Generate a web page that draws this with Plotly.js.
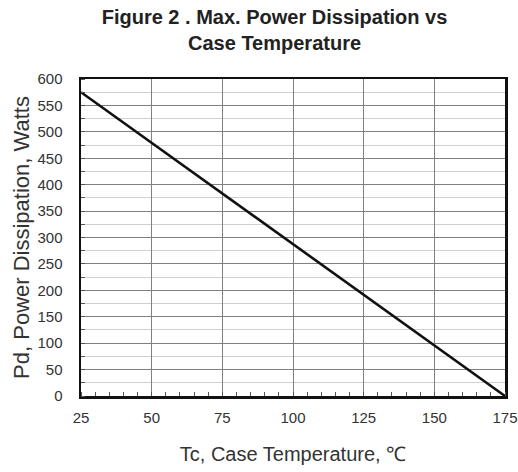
<!DOCTYPE html>
<html>
<head>
<meta charset="utf-8">
<script src="https://cdn.plot.ly/plotly-3.0.1.min.js"></script>
<style>
  html, body { margin: 0; padding: 0; background: #fff; }
  #chart { width: 518px; height: 472px; }
</style>
</head>
<body>
<div id="chart"></div>
<script>
// Derating curve: maximum power dissipation against case temperature
const caseTemp = [25, 175];        // Tc, °C
const powerWatts = [575, 0];       // Pd, W
const xTicks = [25, 50, 75, 100, 125, 150, 175];
const yTicks = [0, 50, 100, 150, 200, 250, 300, 350, 400, 450, 500, 550, 600];

const sans = 'Liberation Sans, Arial, sans-serif';
const labelFont = { family: sans, size: 15, color: '#333' };

const trace = {
  x: caseTemp,
  y: powerWatts,
  mode: 'lines',
  line: { color: '#111', width: 2.6 },
  hoverinfo: 'skip'
};

const layout = {
  width: 518,
  height: 472,
  paper_bgcolor: '#fff',
  plot_bgcolor: '#fff',
  margin: { l: 81, r: 13, t: 79, b: 76 },
  showlegend: false,
  title: {
    text: '<b>Figure 2 . Max. Power Dissipation vs<br>Case Temperature</b>',
    font: { family: sans, size: 20, color: '#222' },
    x: 0.53, xanchor: 'center',
    y: 0.95, yanchor: 'top'
  },
  xaxis: {
    range: [25, 175],
    tickvals: xTicks,
    ticktext: xTicks.map(String),
    showgrid: true,
    gridcolor: '#808080',
    gridwidth: 1,
    zeroline: false,
    showline: true,
    mirror: true,
    linecolor: '#111',
    linewidth: 2.5,
    ticks: '',
    tickfont: labelFont,
    ticklabelstandoff: 6,
    ticklabeloverflow: 'allow',
    minor: { dtick: 5, tick0: 25, ticks: 'inside', ticklen: 4, tickcolor: '#555', showgrid: false },
    title: {
      text: 'Tc, Case Temperature, ℃',
      font: { family: sans, size: 20, color: '#333' },
      standoff: 23
    }
  },
  yaxis: {
    range: [0, 600],
    tickvals: yTicks,
    ticktext: yTicks.map(String),
    showgrid: true,
    gridcolor: '#808080',
    gridwidth: 1,
    zeroline: false,
    showline: true,
    mirror: true,
    linecolor: '#111',
    linewidth: 2.5,
    ticks: '',
    tickfont: labelFont,
    ticklabelstandoff: 13,
    ticklabeloverflow: 'allow',
    minor: { dtick: 25, tick0: 0, ticks: 'inside', ticklen: 4, tickcolor: '#555', showgrid: true, gridcolor: '#d0d0d0', gridwidth: 1 },
    title: {
      text: 'Pd, Power Dissipation, Watts',
      font: { family: sans, size: 22, color: '#333' },
      standoff: 2
    }
  }
};

Plotly.newPlot('chart', [trace], layout, { displayModeBar: false, staticPlot: true });
</script>
</body>
</html>
